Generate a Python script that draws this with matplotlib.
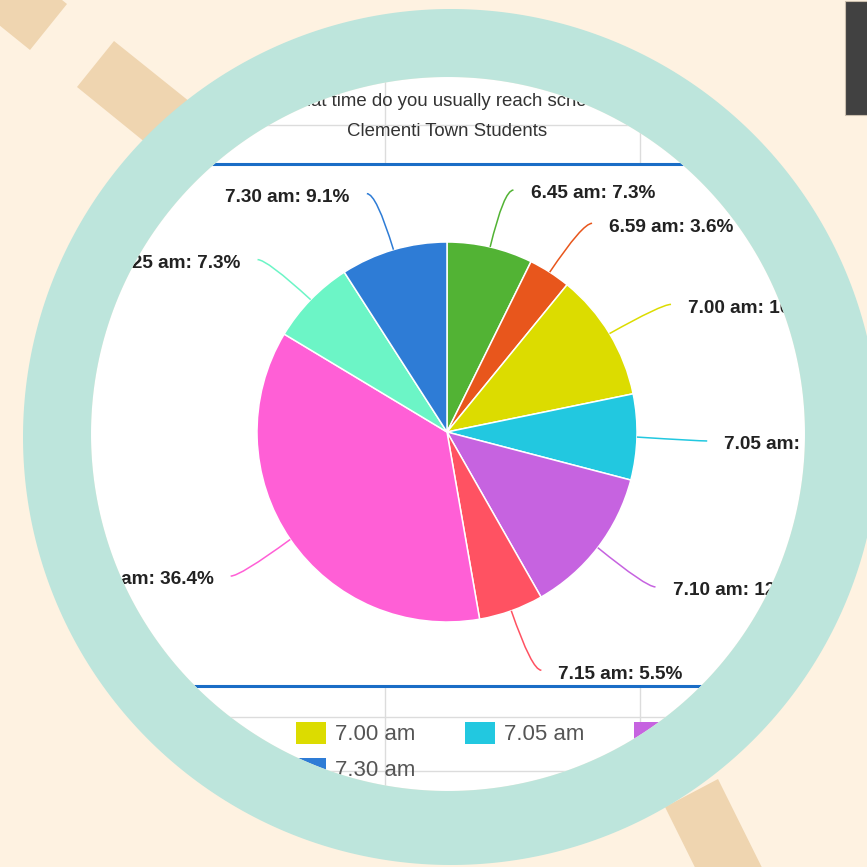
import matplotlib
matplotlib.use("Agg")
import matplotlib.pyplot as plt
from matplotlib.patches import Polygon, Rectangle, PathPatch
from matplotlib.path import Path
import numpy as np

plt.rcParams['font.family'] = ['Liberation Sans', 'DejaVu Sans']

# data
times = ['6.45 am', '6.59 am', '7.00 am', '7.05 am', '7.10 am',
         '7.15 am', '7.20 am', '7.25 am', '7.30 am']
shares = [7.3, 3.6, 10.9, 7.3, 12.7, 5.5, 36.4, 7.3, 9.1]
colors = ['#52b334', '#e8561c', '#dcdc00', '#22c8e0', '#c663e0',
          '#ff5262', '#ff5fd6', '#6cf5c6', '#2e7cd6']
title_lines = ['What time do you usually reach school?', 'Clementi Town Students']

W = 867
cream = '#fef2e1'
fig = plt.figure(figsize=(8.67, 8.67), dpi=100)
fig.patch.set_facecolor('white')


def ring(cx, cy, r, reverse=False, n=400):
    a = np.linspace(0, 2 * np.pi, n)
    if reverse:
        a = a[::-1]
    return np.column_stack([cx + r * np.cos(a), cy + r * np.sin(a)])


# chart layer in pixel coordinates (the screenshot under the lens)
ax = fig.add_axes([0, 0, 1, 1])
ax.set_xlim(0, W)
ax.set_ylim(W, 0)
ax.axis('off')

grid = '#dcdcdc'
for gx in [385, 640]:
    for y0, y1 in [(60, 164), (686, 800)]:
        ax.plot([gx, gx], [y0, y1], color=grid, lw=1, zorder=4)
for gy in [125, 717, 771]:
    ax.plot([60, 830], [gy, gy], color=grid, lw=1, zorder=4)
for by in [164, 686]:
    ax.plot([60, 830], [by, by], color='#1a6dc6', lw=2.2, zorder=5)

for i, line in enumerate(title_lines):
    ax.text(447, 102 + 30 * i, line, ha='center', va='center', fontsize=13.4,
            color='#333333', zorder=6)

# legend (6 per row)
per_row = 6
for i, (name, c) in enumerate(zip(times, colors)):
    row, col = divmod(i, per_row)
    lx = -42 + 169 * col
    ly = 733 + 36 * row
    ax.add_patch(Rectangle((lx, ly - 11), 30, 22, facecolor=c, edgecolor='none', zorder=6))
    ax.text(lx + 39, ly + 1, name, ha='left', va='center', fontsize=16,
            color='#555555', zorder=7)

# pie layer: unit radius = 190 px, centred at (447, 432)
cx, cy, R = 447, 432, 190
pax = fig.add_axes([0, 0, 1, 1])
pax.axis('off')
pax.patch.set_alpha(0)

wedges, _ = pax.pie(shares, colors=colors, startangle=90, counterclock=False,
                    radius=1, wedgeprops=dict(edgecolor='white', linewidth=1.1))
pax.set_xlim(-cx / R, (W - cx) / R)
pax.set_ylim(-(W - cy) / R, cy / R)

for w, name, s, c in zip(wedges, times, shares, colors):
    ang = np.deg2rad((w.theta1 + w.theta2) / 2)
    dx, dy = np.cos(ang), np.sin(ang)
    side = 1 if dx >= 0 else -1
    p0 = (dx * 1.0, dy * 1.0)
    p1 = (dx * 1.32, dy * 1.32 - 0.012)
    p2 = (p1[0] + side * 0.05, p1[1])
    path = Path([p0, p1, p2], [Path.MOVETO, Path.CURVE3, Path.CURVE3])
    pax.add_patch(PathPatch(path, facecolor='none', edgecolor=c, lw=1.1))
    pax.text(p2[0] + side * 0.09, p2[1] - 0.02, f'{name}: {s}%',
             ha='left' if side > 0 else 'right', va='center',
             fontsize=13.7, fontweight='bold', color='#222222')

# magnifier overlay: cream backdrop with a hole, handle dashes, teal ring
ov = fig.add_axes([0, 0, 1, 1])
ov.set_xlim(0, W)
ov.set_ylim(W, 0)
ov.axis('off')
ov.patch.set_alpha(0)

lens_c, lens_r = (448, 434), 357
box = np.array([[-10, -10], [W + 10, -10], [W + 10, W + 10], [-10, W + 10], [-10, -10]])
hole = ring(*lens_c, lens_r, reverse=True)
mask = Path(np.vstack([box, hole]),
            [Path.MOVETO] + [Path.LINETO] * 4 + [Path.MOVETO] + [Path.LINETO] * (len(hole) - 1))
ov.add_patch(PathPatch(mask, facecolor=cream, edgecolor='none', zorder=1))

tan = '#efd5b0'
for pts in [[(30, 50), (67, 4), (-11, -59), (-48, -13)],
            [(77, 87), (114, 41), (215, 122), (178, 169)],
            [(665, 807), (718, 779), (785, 914), (732, 942)]]:
    ov.add_patch(Polygon(pts, closed=True, facecolor=tan, edgecolor='none', zorder=2))
ov.add_patch(Rectangle((845, 1), 25, 114, facecolor='#414141', edgecolor='#cbbfae',
                       lw=0.8, zorder=2))

outer = ring(451, 437, 428)
inner = ring(*lens_c, lens_r, reverse=True)
annulus = Path(np.vstack([outer, inner]),
               [Path.MOVETO] + [Path.LINETO] * (len(outer) - 1)
               + [Path.MOVETO] + [Path.LINETO] * (len(inner) - 1))
ov.add_patch(PathPatch(annulus, facecolor='#bde5dc', edgecolor='none', zorder=3))

fig.savefig('out.png', dpi=100, facecolor=fig.get_facecolor())
